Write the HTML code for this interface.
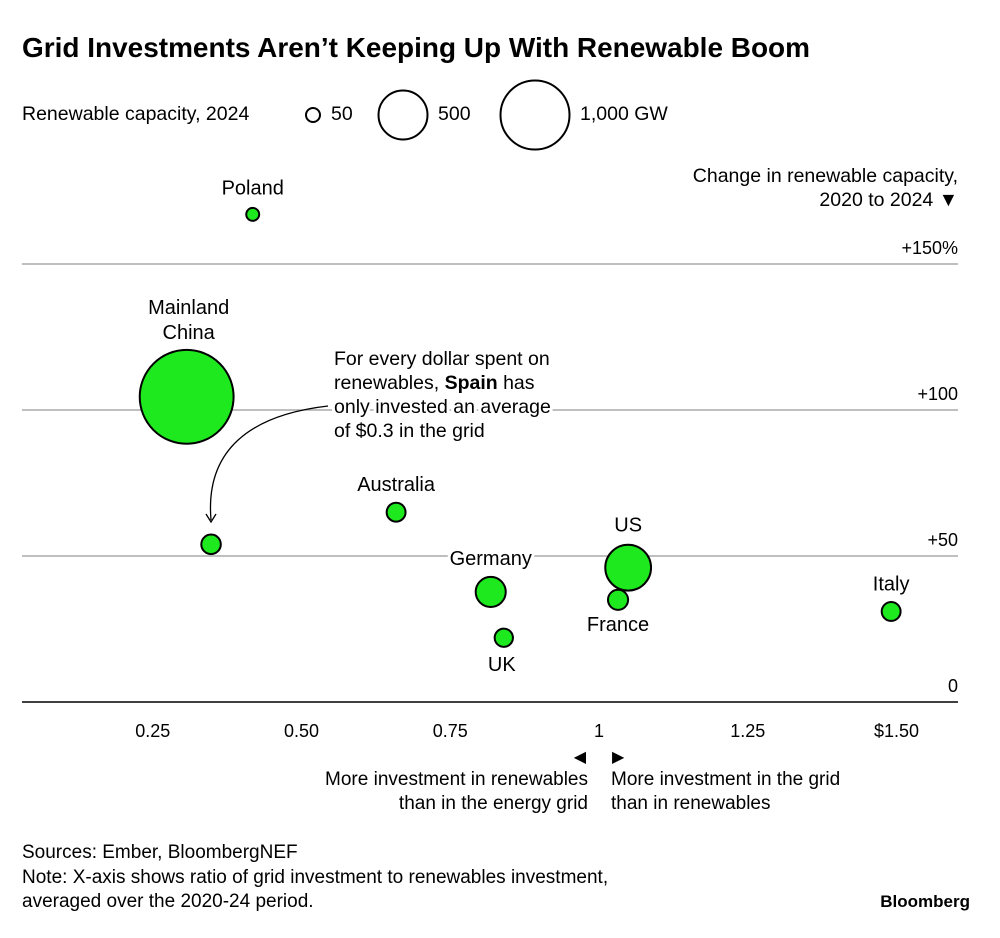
<!DOCTYPE html>
<html><head><meta charset="utf-8"><style>
body{margin:0;background:#fff;font-family:"Liberation Sans",sans-serif;}
svg text{font-family:"Liberation Sans",sans-serif;fill:#000;}
.halo{stroke:#fff;stroke-width:6px;paint-order:stroke;stroke-linejoin:round;}
</style></head><body>
<svg id="c" width="1000" height="933">
<text x="22" y="57" font-size="27.5" font-weight="bold" textLength="788" lengthAdjust="spacingAndGlyphs">Grid Investments Aren’t Keeping Up With Renewable Boom</text>
<g>
<text x="22" y="120" font-size="19.5">Renewable capacity, 2024</text>
<circle cx="313" cy="115" r="7" fill="none" stroke="#000" stroke-width="2"/>
<text x="331" y="120" font-size="19.5">50</text>
<circle cx="403" cy="115" r="24.5" fill="none" stroke="#000" stroke-width="2"/>
<text x="438" y="120" font-size="19.5">500</text>
<circle cx="535" cy="115" r="34.5" fill="none" stroke="#000" stroke-width="2"/>
<text x="580" y="120" font-size="19.5">1,000 GW</text>
</g>
<text x="958" y="182" font-size="19.5" text-anchor="end">Change in renewable capacity,</text>
<text x="958" y="206" font-size="19.5" text-anchor="end">2020 to 2024 ▼</text>
<g id="grid"></g>
<g id="xt"></g>
<g id="pts"></g>
<g>
<text x="334" y="365" font-size="19.5">For every dollar spent on</text>
<text x="334" y="389" font-size="19.5">renewables, <tspan font-weight="bold">Spain</tspan> has</text>
<text x="334" y="413" font-size="19.5" class="halo">only invested an average</text>
<text x="334" y="437" font-size="19.5">of $0.3 in the grid</text>
<path d="M328,406 C250,415 205,450 211,520" fill="none" stroke="#000" stroke-width="1.3"/>
<path d="M206,514 L211,522 L216,514" fill="none" stroke="#000" stroke-width="1.3"/>
</g>
<g>
<text x="586" y="762" font-size="16" text-anchor="end">◀</text>
<text x="612" y="762" font-size="16">▶</text>
<text x="588" y="785" font-size="19" text-anchor="end">More investment in renewables</text>
<text x="588" y="809" font-size="19" text-anchor="end">than in the energy grid</text>
<text x="611" y="785" font-size="19">More investment in the grid</text>
<text x="611" y="809" font-size="19">than in renewables</text>
</g>
<text x="22" y="858" font-size="19">Sources: Ember, BloombergNEF</text>
<text x="22" y="883" font-size="19">Note: X-axis shows ratio of grid investment to renewables investment,</text>
<text x="22" y="907" font-size="19">averaged over the 2020-24 period.</text>
<text x="970" y="907" font-size="17" font-weight="bold" text-anchor="end">Bloomberg</text>
</svg>
<script>
const countries=["Poland","Mainland China","Spain","Australia","Germany","UK","US","France","Italy"];
const ratios=[0.418,0.307,0.348,0.659,0.818,0.840,1.049,1.032,1.491];
const changes=[167,104.5,54,65,37.7,22,46,35,31];
const capacity=[35,1850,80,75,190,70,440,85,75];
const xTicks=[0.25,0.5,0.75,1,1.25,1.5];
const xTickLabels=["0.25","0.50","0.75","1","1.25","$1.50"];
const yTicks=[0,50,100,150];
const yTickLabels=["0","+50","+100","+150%"];
const X=v=>4+v*595, Y=v=>702-v*2.92, R=v=>34.5*Math.sqrt(v/1000);
const NS="http://www.w3.org/2000/svg";
function mk(t,a,p){const e=document.createElementNS(NS,t);for(const k in a)e.setAttribute(k,a[k]);p.appendChild(e);return e;}
const g=document.getElementById('grid');
yTicks.forEach((t,i)=>{
 const l=mk('line',{x1:22,x2:958,y1:Y(t),y2:Y(t),stroke:t===0?'#000':'#aaa','stroke-width':1.5},g);
 
 
 const tx=mk('text',{x:958,y:Y(t)-10,'font-size':18,'text-anchor':'end'},g);tx.textContent=yTickLabels[i];
 
 
});
const xt=document.getElementById('xt');
xTicks.forEach((t,i)=>{
 const tx=mk('text',{x:X(t),y:737,'font-size':18,'text-anchor':'middle'},xt);tx.textContent=xTickLabels[i];
 
 
});
const lab={"Poland":[0,-20],"Mainland China":[0,-66],"Spain":null,"Australia":[0,-21],"Germany":[0,-27],"UK":[-2,33],"US":[0,-36],"France":[0,31],"Italy":[0,-21]};
const p=document.getElementById('pts');
countries.forEach((c,i)=>{
 const cx=X(ratios[i]),cy=Y(changes[i]);
 const ci=mk('circle',{cx:cx,cy:cy,r:R(capacity[i]),fill:'#1ee81e',stroke:'#000','stroke-width':2},p);
 
 
 const o=lab[c];if(!o)return;
 if(c==="Mainland China"){
  const t1=mk('text',{x:cx+2,y:cy-83,'font-size':20,'text-anchor':'middle'},p);t1.textContent="Mainland";
  
  
  const t2=mk('text',{x:cx+2,y:cy-58,'font-size':20,'text-anchor':'middle'},p);t2.textContent="China";
  
  
  return;
 }
 const t=mk('text',{x:cx+o[0],y:cy+o[1],'font-size':20,'text-anchor':'middle',class:'halo'},p);t.textContent=c;
 
 
});
</script>
</body></html>
